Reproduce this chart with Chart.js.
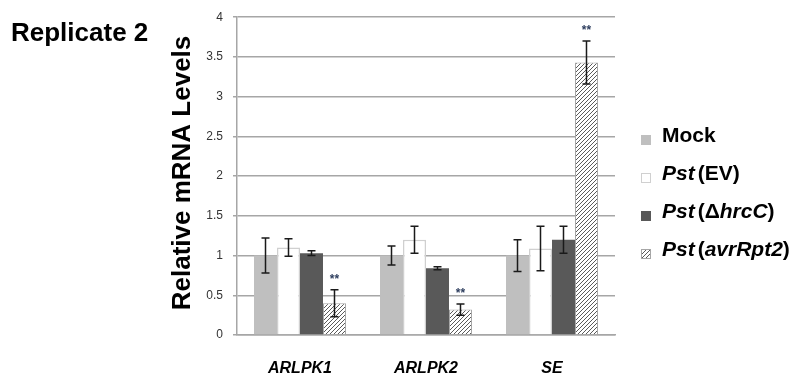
<!DOCTYPE html>
<html>
<head>
<meta charset="utf-8">
<script src="https://cdn.jsdelivr.net/npm/chart.js@4"></script>
<style>
  html, body { margin:0; padding:0; background:#fff; }
  #wrap { width:797px; height:385px; position:relative; }
</style>
</head>
<body>
<div id="wrap"><canvas id="chart" width="797" height="385"></canvas></div>
<script>
// Relative mRNA levels, replicate 2
const categories = ['ARLPK1', 'ARLPK2', 'SE'];
const mockValues = [1.0, 1.0, 1.0];
const mockErrors = [0.22, 0.12, 0.2];
const evValues = [1.1, 1.2, 1.09];
const evErrors = [0.11, 0.17, 0.28];
const hrcCValues = [1.03, 0.84, 1.2];
const hrcCErrors = [0.03, 0.02, 0.17];
const avrValues = [0.4, 0.32, 3.43];
const avrErrors = [0.17, 0.07, 0.27];
const avrMarks = ['**', '**', '**'];
const yMin = 0, yMax = 4, yStep = 0.5;

// legend text pieces: [text, italic, gap before]
const legendParts = [
  [['Mock', false, 0]],
  [['Pst', true, 0], ['(EV)', false, 3]],
  [['Pst', true, 0], ['(\u0394', false, 3], ['hrcC', true, 0], [')', false, 0]],
  [['Pst', true, 0], ['(', false, 3], ['avrRpt2', true, 0], [')', false, 0]]
];

function makeHatch() {
  const c = document.createElement('canvas');
  c.width = 4; c.height = 4;
  const g = c.getContext('2d');
  g.fillStyle = '#fff';
  g.fillRect(0, 0, 4, 4);
  g.strokeStyle = '#5a5a5a';
  g.lineWidth = 1;
  g.beginPath();
  g.moveTo(0, 4); g.lineTo(4, 0);
  g.moveTo(-1, 1); g.lineTo(1, -1);
  g.moveTo(3, 5); g.lineTo(5, 3);
  g.stroke();
  return g.createPattern(c, 'repeat');
}

const ctx = document.getElementById('chart').getContext('2d');
const hatch = makeHatch();

const datasets = [
  { label: 'Mock', data: mockValues, errors: mockErrors, backgroundColor: '#bfbfbf', borderColor: '#bfbfbf', borderWidth: 0 },
  { label: 'Pst(EV)', data: evValues, errors: evErrors, backgroundColor: '#ffffff', borderColor: '#d0d0d0', borderWidth: 1.5 },
  { label: 'Pst(ΔhrcC)', data: hrcCValues, errors: hrcCErrors, backgroundColor: '#595959', borderColor: '#595959', borderWidth: 0 },
  { label: 'Pst(avrRpt2)', data: avrValues, errors: avrErrors, marks: avrMarks, backgroundColor: hatch, borderColor: '#a6a6a6', borderWidth: 1 }
];

const extras = {
  id: 'extras',
  afterDatasetsDraw(chart) {
    const c = chart.ctx;
    const y = chart.scales.y;
    c.save();
    // error bars
    chart.data.datasets.forEach((ds, d) => {
      const meta = chart.getDatasetMeta(d);
      meta.data.forEach((bar, i) => {
        const v = ds.data[i], e = ds.errors[i];
        const top = y.getPixelForValue(v + e), bot = y.getPixelForValue(v - e);
        c.strokeStyle = '#1a1a1a';
        c.lineWidth = 1.5;
        c.beginPath();
        c.moveTo(bar.x, top); c.lineTo(bar.x, bot);
        c.moveTo(bar.x - 4, top); c.lineTo(bar.x + 4, top);
        c.moveTo(bar.x - 4, bot); c.lineTo(bar.x + 4, bot);
        c.stroke();
        if (ds.marks && ds.marks[i]) {
          c.fillStyle = '#2f3f5f';
          c.font = 'bold 12px "Liberation Sans", Arial, sans-serif';
          c.textAlign = 'center';
          c.textBaseline = 'middle';
          c.fillText(ds.marks[i], bar.x, top - 10);
        }
      });
    });
    c.restore();
  },
  afterDraw(chart) {
    const c = chart.ctx;
    c.save();
    c.fillStyle = '#000';
    // title
    c.font = 'bold 26px "Liberation Sans", Arial, sans-serif';
    c.textAlign = 'left';
    c.textBaseline = 'alphabetic';
    c.fillText('Replicate 2', 11, 41);
    // y axis title
    c.save();
    c.translate(190, 173);
    c.rotate(-Math.PI / 2);
    c.font = 'bold 26px "Liberation Sans", Arial, sans-serif';
    c.textAlign = 'center';
    c.textBaseline = 'alphabetic';
    c.fillText('Relative mRNA Levels', 0, 0);
    c.restore();
    // legend
    const rowY = [136, 174, 212, 250];
    chart.data.datasets.forEach((ds, d) => {
      const cy = rowY[d];
      c.fillStyle = ds.backgroundColor;
      c.fillRect(641, cy - 1, 10, 10);
      if (ds.borderWidth) {
        c.strokeStyle = ds.borderColor;
        c.lineWidth = 1;
        c.strokeRect(641.5, cy - 0.5, 9, 9);
      }
      let x = 662;
      c.fillStyle = '#000';
      c.textBaseline = 'middle';
      c.textAlign = 'left';
      legendParts[d].forEach(p => {
        x += p[2];
        c.font = (p[1] ? 'italic ' : '') + 'bold 21px "Liberation Sans", Arial, sans-serif';
        c.fillText(p[0], x, cy);
        x += c.measureText(p[0]).width;
      });
    });
    c.restore();
  }
};

new Chart(ctx, {
  type: 'bar',
  data: { labels: categories, datasets: datasets },
  options: {
    responsive: false,
    animation: false,
    layout: { padding: { left: 0, right: 182, top: 10, bottom: 0 } },
    datasets: { bar: { categoryPercentage: 0.73, barPercentage: 1.0 } },
    plugins: { legend: { display: false }, tooltip: { enabled: false } },
    scales: {
      x: {
        grid: { display: false, drawTicks: false },
        border: { color: '#a6a6a6', width: 1.5 },
        ticks: {
          color: '#000',
          padding: 24,
          font: { family: '"Liberation Sans", Arial, sans-serif', size: 16, style: 'italic', weight: 'bold' }
        },
        afterFit: s => { s.height = 50; }
      },
      y: {
        min: yMin, max: yMax,
        grid: { color: '#a6a6a6', lineWidth: 1.5, tickLength: 4 },
        border: { color: '#a6a6a6', width: 1.5 },
        ticks: {
          stepSize: yStep,
          color: '#333',
          padding: 10,
          font: { family: '"Liberation Sans", Arial, sans-serif', size: 12 },
          callback: v => String(Number(v))
        },
        afterFit: s => { s.width = 237; }
      }
    }
  },
  plugins: [extras]
});
</script>
</body>
</html>
